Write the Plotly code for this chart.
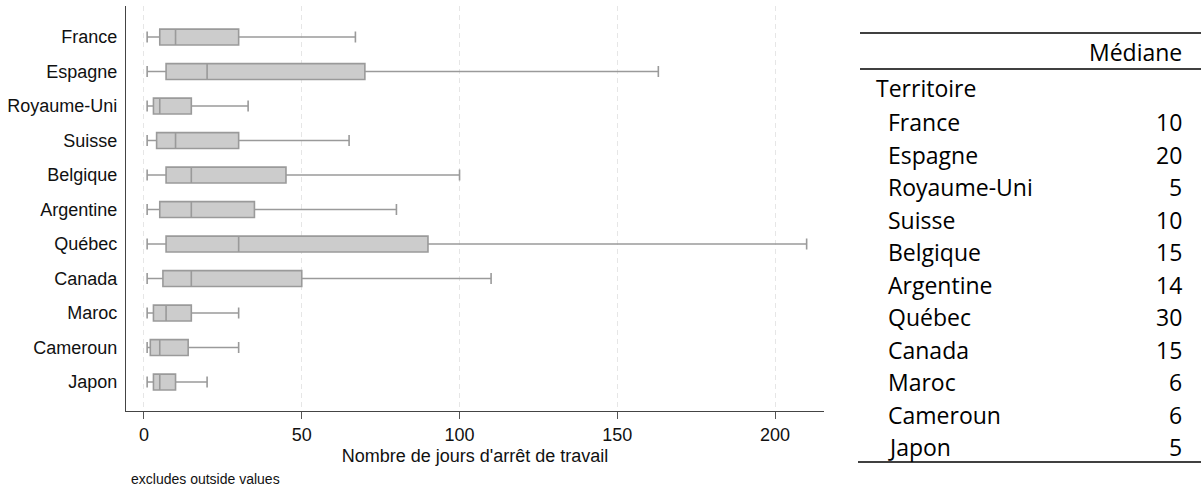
import plotly.graph_objects as go

countries = ["France", "Espagne", "Royaume-Uni", "Suisse", "Belgique", "Argentine",
             "Québec", "Canada", "Maroc", "Cameroun", "Japon"]
lower = [1, 1, 1, 1, 1, 1, 1, 1, 1, 1, 1]
q1 = [5, 7, 3, 4, 7, 5, 7, 6, 3, 2, 3]
median = [10, 20, 5, 10, 15, 15, 30, 15, 7, 5, 5]
q3 = [30, 70, 15, 30, 45, 35, 90, 50, 15, 14, 10]
upper = [67, 163, 33, 65, 100, 80, 210, 110, 30, 30, 20]

table_medians = [10, 20, 5, 10, 15, 14, 30, 15, 6, 6, 5]
x_ticks = [0, 50, 100, 150, 200]

W, H = 1201, 491
L, R, T, B = 126, 824, 6, 411

fig = go.Figure()
fig.add_trace(go.Box(
    y=countries, q1=q1, median=median, q3=q3,
    lowerfence=lower, upperfence=upper,
    orientation="h", boxpoints=False,
    fillcolor="#cccccc", line=dict(color="#9a9a9a", width=1.6),
    width=0.46, whiskerwidth=0.7, showlegend=False, hoverinfo="skip",
))

def px_x(px):
    return (px - L) / (R - L)

def px_y(py):
    return (B - py) / (B - T)

font_main = "Liberation Sans, Arial, sans-serif"
font_tab = "Open Sans, sans-serif"

fig.update_layout(
    width=W, height=H,
    margin=dict(l=L, r=W - R, t=T, b=H - B),
    paper_bgcolor="white", plot_bgcolor="white",
    font=dict(family=font_main, size=18, color="#111111"),
    xaxis=dict(
        range=[-5.7, 215.5], tickvals=x_ticks, ticks="outside", ticklen=7,
        tickcolor="#555555", tickwidth=1,
        showline=True, linecolor="#444444", linewidth=1.3,
        showgrid=True, gridcolor="#e6e6e6", griddash="5px,4px", gridwidth=1.3,
        zeroline=False,
        title=dict(text="Nombre de jours d'arrêt de travail", font=dict(size=18), standoff=5),
        tickfont=dict(size=18), fixedrange=True,
    ),
    yaxis=dict(
        range=[10.84, -0.9], type="category", categoryarray=countries,
        showline=True, linecolor="#444444", linewidth=1.3,
        showgrid=False, zeroline=False, ticks="", ticklabelstandoff=4,
        tickfont=dict(size=18), fixedrange=True,
    ),
)

# footnote
fig.add_annotation(text="excludes outside values", xref="paper", yref="paper",
                   x=px_x(129), y=px_y(479), xanchor="left", yanchor="middle",
                   showarrow=False, font=dict(size=14, family=font_main, color="#111111"))

# table on the right
for y0 in (33, 69):
    fig.add_shape(type="line", xref="paper", yref="paper",
                  x0=px_x(860), x1=px_x(1201), y0=px_y(y0), y1=px_y(y0),
                  line=dict(color="black", width=1.3))
fig.add_shape(type="line", xref="paper", yref="paper",
              x0=px_x(858), x1=px_x(1201), y0=px_y(462), y1=px_y(462),
              line=dict(color="black", width=1.3))

tfont = dict(size=23, family=font_tab, color="black")
fig.add_annotation(text="Médiane", xref="paper", yref="paper",
                   x=px_x(1184), y=px_y(52), xanchor="right", yanchor="middle",
                   showarrow=False, font=tfont)
fig.add_annotation(text="Territoire", xref="paper", yref="paper",
                   x=px_x(874), y=px_y(88), xanchor="left", yanchor="middle",
                   showarrow=False, font=tfont)
for i, (c, m) in enumerate(zip(countries, table_medians)):
    yy = 122 + i * 32.5
    fig.add_annotation(text=c, xref="paper", yref="paper",
                       x=px_x(886), y=px_y(yy), xanchor="left", yanchor="middle",
                       showarrow=False, font=tfont)
    fig.add_annotation(text=str(m), xref="paper", yref="paper",
                       x=px_x(1184), y=px_y(yy), xanchor="right", yanchor="middle",
                       showarrow=False, font=tfont)

fig.write_html("out.html", config={"displayModeBar": False},
               post_script="document.body.style.margin='0';")
